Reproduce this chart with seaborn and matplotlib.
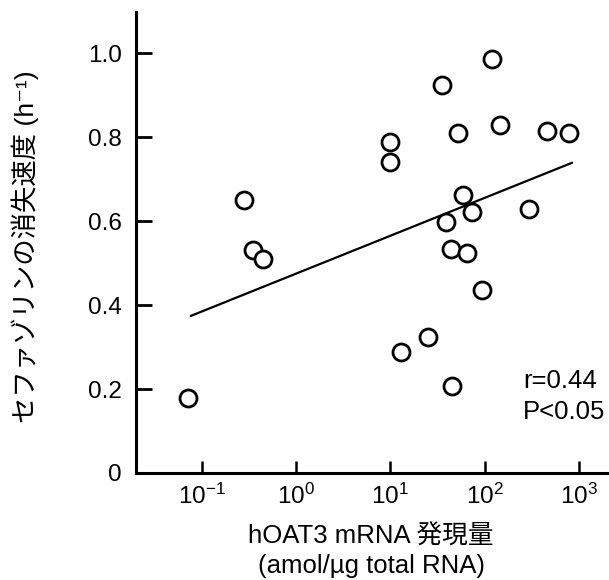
import matplotlib
matplotlib.use("Agg")
import matplotlib.pyplot as plt
import matplotlib.ticker as mticker
import numpy as np
import pandas as pd
import seaborn as sns

# Data
mrna = [118.6, 35.5, 9.9, 9.9, 52.5, 145.0, 461.0, 783.0, 0.281, 59.3, 72.8,
        38.5, 297.0, 0.345, 0.448, 43.6, 65.3, 92.9, 24.8, 12.9, 44.6, 0.0705]
rate = [0.987, 0.925, 0.789, 0.741, 0.809, 0.829, 0.815, 0.810, 0.650, 0.662, 0.621,
        0.597, 0.629, 0.531, 0.509, 0.533, 0.525, 0.436, 0.323, 0.287, 0.207, 0.178]
fit_x = [0.0759, 849.0]
fit_y = [0.374, 0.739]
xtick_vals = [0.1, 1, 10, 100, 1000]
xtick_labels = [r"$10^{-1}$", r"$10^{0}$", r"$10^{1}$", r"$10^{2}$", r"$10^{3}$"]
ytick_vals = [0, 0.2, 0.4, 0.6, 0.8, 1.0]
ytick_labels = ["0", "0.2", "0.4", "0.6", "0.8", "1.0"]
stats_text = ["r=0.44", "P<0.05"]

sns.set_theme(style="white")
plt.rcParams["font.family"] = ["Liberation Sans", "Noto Sans CJK JP", "DejaVu Sans"]
plt.rcParams["mathtext.fontset"] = "custom"
plt.rcParams["mathtext.rm"] = "Liberation Sans"
plt.rcParams["mathtext.it"] = "Liberation Sans:italic"
plt.rcParams["mathtext.default"] = "regular"
plt.rcParams["text.color"] = "black"

df = pd.DataFrame({"mrna": mrna, "rate": rate})
fit = pd.DataFrame({"x": fit_x, "y": fit_y})

fig = plt.figure(figsize=(6.09, 5.80), dpi=100)
ax = fig.add_axes([0.2233, 0.1845, 0.7767, 0.7948])

sns.lineplot(data=fit, x="x", y="y", ax=ax, color="black", linewidth=1.6)
sns.scatterplot(data=df, x="mrna", y="rate", ax=ax, s=150, facecolor="white",
                edgecolor="black", linewidth=2.0, zorder=3)

ax.set_xscale("log")
ax.set_xlim(10 ** -1.70, 10 ** 3.32)
ax.set_ylim(0, 1.098)
ax.set_xticks(xtick_vals)
ax.set_xticklabels(xtick_labels)
ax.xaxis.set_minor_locator(mticker.NullLocator())
ax.set_yticks(ytick_vals)
ax.set_yticklabels(ytick_labels)

for side in ["top", "right"]:
    ax.spines[side].set_visible(False)
for side in ["left", "bottom"]:
    ax.spines[side].set_linewidth(2.2)
    ax.spines[side].set_color("black")

ax.tick_params(axis="y", direction="in", length=11.5, width=2.0, pad=10,
               labelsize=17.5, colors="black", left=True)
ax.tick_params(axis="x", direction="in", length=9, width=1.8, pad=8,
               labelsize=17.5, colors="black", bottom=True)

ax.set_xlabel("hOAT3 mRNA 発現量\n(amol/µg total RNA)", fontsize=18.5,
              linespacing=1.3, color="black")
ax.xaxis.set_label_coords(0.497, -0.111)
ax.set_ylabel("セファゾリンの消失速度 (h⁻¹)", fontsize=19, color="black")
ax.yaxis.set_label_coords(-0.205, 0.49)

ax.text(255, 0.219, stats_text[0], fontsize=18.5, va="center", ha="left",
        color="black")
ax.text(255, 0.145, stats_text[1], fontsize=18.5, va="center", ha="left",
        color="black")

fig.savefig("out.png", dpi=100)
